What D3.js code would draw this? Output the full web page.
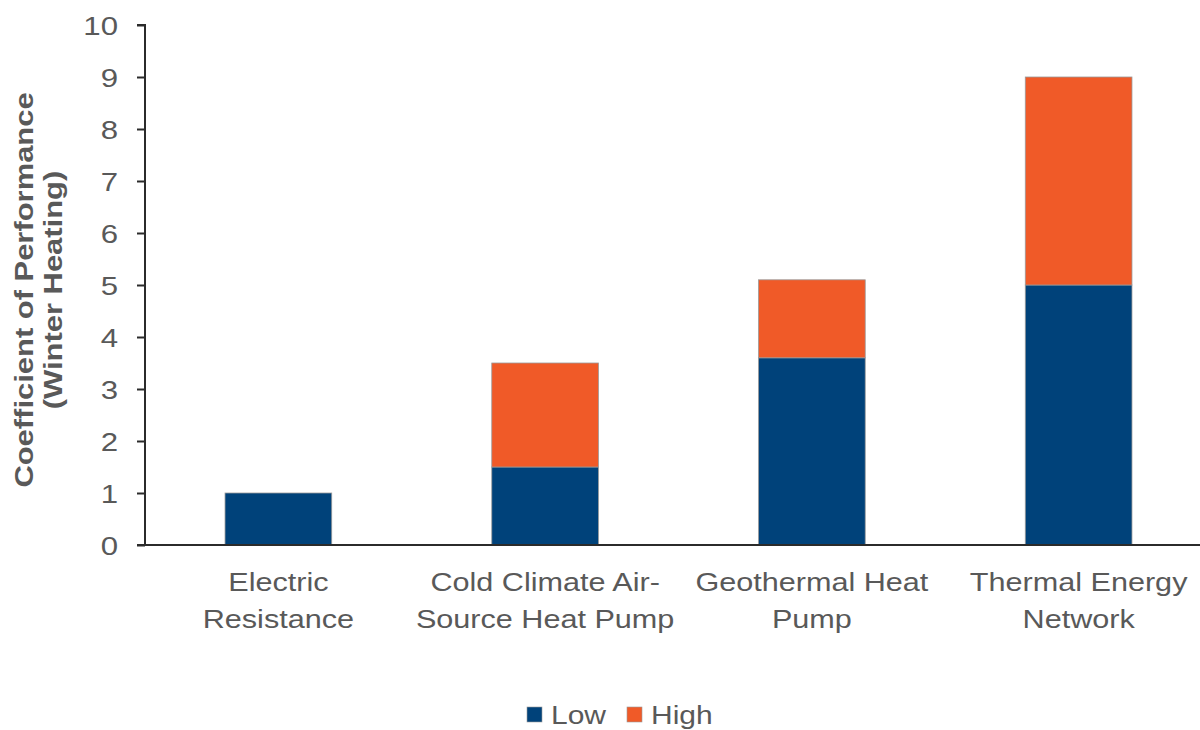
<!DOCTYPE html>
<html><head><meta charset="utf-8">
<script src="https://cdn.jsdelivr.net/npm/d3@7"></script>
<style>body{margin:0;background:#fff}svg{display:block}</style>
</head><body><div id="chart"></div>
<script>
const categories = [["Electric","Resistance"],["Cold Climate Air-","Source Heat Pump"],["Geothermal Heat","Pump"],["Thermal Energy","Network"]];
const lowValues = [1.0, 1.5, 3.6, 5.0];
const highValues = [0.0, 2.0, 1.5, 4.0];
const yTicks = [0,1,2,3,4,5,6,7,8,9,10];
const seriesNames = ["Low","High"];
const colors = ["#00427A","#F05A28"];

const FONT = "Liberation Sans, Arial, sans-serif";
const TXT = "#595959";
const SX = 1.2; // horizontal stretch of text seen in reference

const W = 1200, H = 730;
const svg = d3.select("#chart").append("svg").attr("width", W).attr("height", H);
const x0 = 145, x1 = 1212, yTop = 25, yBot = 545;
const x = d3.scaleBand().domain(d3.range(categories.length)).range([x0, x1]).paddingInner(0.6).paddingOuter(0.3);
const y = d3.scaleLinear().domain([0, 10]).range([yBot, yTop]);

const rows = categories.map((c, i) => ({i, Low: lowValues[i], High: highValues[i]}));
const stacked = d3.stack().keys(seriesNames)(rows);

svg.append("g").selectAll("g").data(stacked).join("g")
  .attr("fill", (d, k) => colors[k])
  .selectAll("rect").data(d => d.filter(s => s[1] - s[0] > 0)).join("rect")
  .attr("x", d => x(d.data.i))
  .attr("width", x.bandwidth())
  .attr("y", d => y(d[1]))
  .attr("height", d => y(d[0]) - y(d[1]))
  .attr("stroke", "#9a9a9a").attr("stroke-width", 0.8);

// y axis
const yAxis = svg.append("g").attr("transform", `translate(${x0},0)`)
  .call(d3.axisLeft(y).tickValues(yTicks).tickSize(8).tickPadding(27).tickFormat(d3.format("d")));
yAxis.select(".domain").attr("stroke", "#2b2b2b").attr("stroke-width", 2).attr("d", `M-8,${yTop}H0V${yBot}`);
yAxis.selectAll(".tick line").attr("stroke", "#2b2b2b").attr("stroke-width", 2);
yAxis.selectAll("text")
  .attr("x", 0).attr("dy", "0.36em")
  .attr("transform", `translate(-27,0) scale(${SX},1)`)
  .attr("font-family", FONT).attr("font-size", 26).attr("fill", TXT);

// x axis line
svg.append("line").attr("x1", x0 - 8).attr("x2", W).attr("y1", yBot).attr("y2", yBot)
  .attr("stroke", "#2b2b2b").attr("stroke-width", 2);

// category labels
const cl = svg.append("g").selectAll("text").data(categories).join("text")
  .attr("transform", (d, i) => `translate(${x(i) + x.bandwidth() / 2},591) scale(${SX},1)`)
  .attr("text-anchor", "middle")
  .attr("font-family", FONT)
  .attr("font-size", 25.5).attr("fill", TXT);
cl.selectAll("tspan").data(d => d).join("tspan")
  .attr("x", 0)
  .attr("dy", (d, j) => j === 0 ? 0 : 37)
  .text(d => d);

// y title
const yt = svg.append("text")
  .attr("transform", `translate(33,290) rotate(-90) scale(1.19,1)`)
  .attr("text-anchor", "middle")
  .attr("font-family", FONT)
  .attr("font-size", 26).attr("font-weight", "bold").attr("fill", TXT);
yt.append("tspan").attr("x", 0).attr("dy", 0).text("Coefficient of Performance");
yt.append("tspan").attr("x", 0).attr("dy", 29).text("(Winter Heating)");

// legend
const legend = svg.append("g");
const legX = [527, 627];
seriesNames.forEach((n, k) => {
  legend.append("rect").attr("x", legX[k]).attr("y", 707).attr("width", 15).attr("height", 15)
    .attr("fill", colors[k]).attr("stroke", "#9a9a9a").attr("stroke-width", 0.6);
  legend.append("text").attr("transform", `translate(${legX[k] + 24},724) scale(${SX},1)`)
    .attr("font-family", FONT).attr("font-size", 25).attr("fill", TXT).text(n);
});
</script></body></html>
